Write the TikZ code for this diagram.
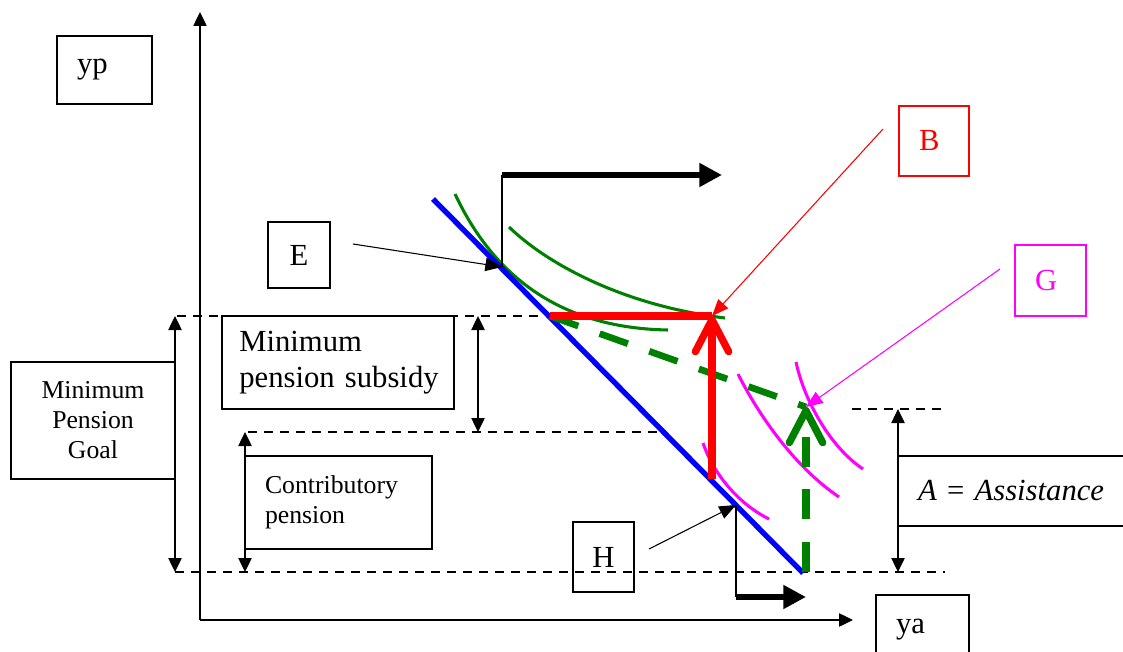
\documentclass[tikz,border=0pt]{standalone}
\usepackage{fontspec}
\setmainfont{Liberation Serif}
\usepackage{xcolor}
\usepackage{tikz}
\usetikzlibrary{arrows.meta}

\definecolor{pgreen}{RGB}{0,128,0}
\definecolor{pred}{RGB}{255,0,0}
\definecolor{pmagenta}{RGB}{255,0,255}
\definecolor{pblue}{RGB}{0,0,255}

\begin{document}
\begin{tikzpicture}[x=0.75pt, y=-0.75pt,
  lbox/.style={draw, line width=1.1pt, inner ysep=0pt, inner xsep=15pt, align=left},
  cbox/.style={draw, line width=1.1pt, inner sep=0pt, align=center},
  bigfont/.style={font=\fontsize{23}{27}\selectfont},
  smallfont/.style={font=\fontsize{19.3}{22.5}\selectfont},
  guideline/.style={dash pattern=on 7pt off 5pt, line width=0.9pt},
  spanarrow/.style={{Triangle[length=10.5pt,width=10pt]}-{Triangle[length=10.5pt,width=10pt]}, line width=1pt},
  axisline/.style={-{Triangle[length=10.5pt,width=10pt]}, line width=1pt},
  pointer/.style={-{Triangle[length=12.5pt,width=10pt]}, line width=0.8pt},
  fatarrow/.style={-{Triangle[length=17pt,width=17pt]}, line width=5pt},
  budget/.style={pblue, line width=4pt},
  indiff/.style={line width=2.3pt},
  jumparrow/.style={-{Straight Barb[length=24pt,width=25pt,round]}, line width=5.5pt}
]
\useasboundingbox (0,0) rectangle (1123,652);
\clip (0,0) rectangle (1123,652);

\node[lbox, bigfont, text width=41.25pt, minimum height=51pt] (yp) at (104.5,70) {yp};
\node[lbox, bigfont, text width=39.75pt, minimum height=52.5pt] (ya) at (922.5,630) {ya};
\node[cbox, bigfont, minimum width=46.5pt, minimum height=49.5pt] (Ebox) at (299,255) {E};
\node[lbox, bigfont, pred, text width=22.5pt, minimum height=52.5pt] (Bbox) at (934,141) {B};
\node[lbox, bigfont, pmagenta, text width=23.25pt, minimum height=53.25pt] (Gbox) at (1050.5,280.5) {G};
\node[cbox, bigfont, minimum width=45.75pt, minimum height=52.5pt] (Hbox) at (603.5,557) {H};
\node[lbox, bigfont, text width=144pt, minimum height=52.5pt] (assist) at (1014,491) {\textit{A} = \textit{Assistance}};
\node[lbox, bigfont, inner xsep=13pt, text width=148pt, minimum height=69.75pt] (subsidy) at (338,362.5) {Minimum\\\mbox{pension subsidy}};
\node[cbox, smallfont, minimum width=123pt, minimum height=87.75pt] (goal) at (93,420.5) {Minimum\\Pension\\Goal};
\node[lbox, smallfont, text width=110.25pt, minimum height=69.75pt] (contrib) at (338.5,502.5) {Contributory\\pension};

\coordinate (O) at (200,620);
\coordinate (ytop) at (200,12);
\coordinate (xend) at (853,620);
\draw[axisline] (O) -- (ytop);
\draw[axisline] (O) -- (xend);

\draw[guideline] (177,316) -- (540,316);
\draw[guideline] (248,432) -- (665,432);
\draw[guideline] (175,572) -- (945,572);
\draw[guideline] (852,409) -- (942,409);

\draw[spanarrow] (175,316) -- (175,572);
\draw[spanarrow] (478,316) -- (478,432);
\draw[spanarrow] (245,432) -- (245,572);
\draw[spanarrow] (898,409) -- (898,572);

\draw[indiff, pgreen] (455,194) .. controls (488,264) and (548,328) .. (668,330);
\draw[indiff, pgreen] (509,227) .. controls (545,262) and (620,305) .. (725,318);
\draw[indiff, pmagenta] (703,443) .. controls (712,470) and (735,502) .. (769,519);
\draw[indiff, pmagenta] (738,374) .. controls (757,412) and (793,466) .. (839,497);
\draw[indiff, pmagenta] (796,362) .. controls (804,400) and (830,447) .. (863,469);

\draw[budget] (433,199) -- (803,573);

\coordinate (Mleft) at (550,316);
\coordinate (Btip) at (712,316);
\coordinate (Rbase) at (712,479);
\coordinate (Gtip) at (806,407);
\coordinate (Gbase) at (806,572);

\draw[pgreen, line width=5pt, dash pattern=on 22.5pt off 17pt] (Mleft) -- (Gtip);
\draw[pred, line width=6pt] (Mleft) -- (Btip);
\draw[jumparrow, pred] (Rbase) -- (Btip);
\draw[jumparrow, pgreen, dash pattern=on 22.5pt off 17pt] (Gbase) -- (Gtip);

\coordinate (Etan) at (502,267);
\coordinate (Eturn) at (502,175);
\coordinate (Eend) at (722,175);
\coordinate (Htan) at (736,505);
\coordinate (Hturn) at (736,597);
\coordinate (Hend) at (806,597);

\draw[line width=1pt] (Etan) -- (Eturn);
\draw[fatarrow] (Eturn) -- (Eend);
\draw[line width=1pt] (Htan) -- (Hturn);
\draw[fatarrow] (Hturn) -- (Hend);

\coordinate (Etail) at (353,244);
\coordinate (Btail) at (883,129);
\coordinate (Gtail) at (1000,269);
\coordinate (Htail) at (649,549);

\draw[pointer] (Etail) -- (Etan);
\draw[pointer, pred] (Btail) -- (Btip);
\draw[pointer, pmagenta] (Gtail) -- (Gtip);
\draw[pointer] (Htail) -- (Htan);
\end{tikzpicture}
\end{document}
